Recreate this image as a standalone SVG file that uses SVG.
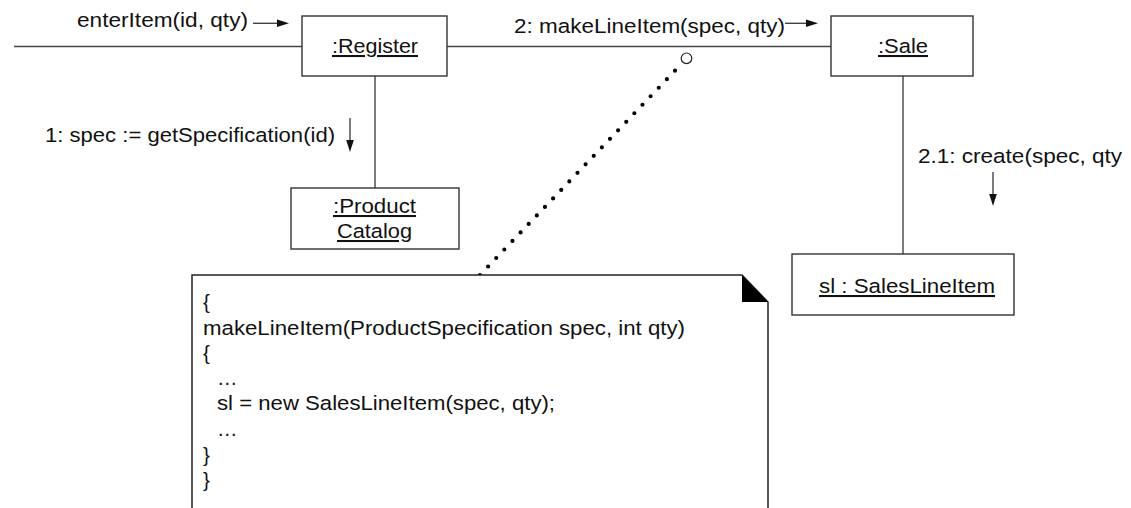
<svg xmlns="http://www.w3.org/2000/svg" width="1131" height="508" viewBox="0 0 1131 508">
<defs>
<style>
text{font-family:"Liberation Sans",Arial,sans-serif;font-size:20.5px;fill:#111}
.box{fill:#fff;stroke:#333;stroke-width:1.4}
.ln{stroke:#444;stroke-width:1.4;fill:none}
.u{text-decoration:underline}
.ah{fill:#111}
</style>
</defs>
<rect width="1131" height="508" fill="#fff"/>
<g id="connectors">
<line class="ln" x1="14" y1="46.5" x2="302" y2="46.5"/>
<line class="ln" x1="447" y1="46.5" x2="831" y2="46.5"/>
<line class="ln" x1="375" y1="76" x2="375" y2="188"/>
<line class="ln" x1="903" y1="76" x2="903" y2="254"/>
<line x1="675" y1="70.7" x2="479.5" y2="275.5" stroke="#000" stroke-width="4.2" stroke-linecap="round" stroke-dasharray="0 11.77"/>
<circle cx="686.5" cy="58.3" r="5.3" fill="#fff" stroke="#222" stroke-width="1.2"/>
<g id="msg-enterItem">
<text x="77" y="27" textLength="171" lengthAdjust="spacingAndGlyphs">enterItem(id, qty)</text>
<line class="ln" x1="253" y1="23.3" x2="280" y2="23.3" stroke="#111"/>
<polygon class="ah" points="289,23.3 277,19.6 277,27"/>
</g>
<g id="msg-makeLineItem">
<text x="514" y="33" textLength="271" lengthAdjust="spacingAndGlyphs">2: makeLineItem(spec, qty)</text>
<line class="ln" x1="785" y1="23.3" x2="808" y2="23.3" stroke="#111"/>
<polygon class="ah" points="818,23.3 806,19.6 806,27"/>
</g>
<g id="msg-getSpecification">
<text x="45" y="142" textLength="290" lengthAdjust="spacingAndGlyphs">1: spec := getSpecification(id)</text>
<line class="ln" x1="350" y1="118" x2="350" y2="143" stroke="#111"/>
<polygon class="ah" points="350,152 346.2,140 353.8,140"/>
</g>
<g id="msg-create">
<text x="918" y="163" textLength="204" lengthAdjust="spacingAndGlyphs">2.1: create(spec, qty</text>
<line class="ln" x1="993" y1="172" x2="993" y2="196" stroke="#111"/>
<polygon class="ah" points="993,206 989.2,194 996.8,194"/>
</g>
</g>
<g id="register">
<rect class="box" x="302" y="16" width="145" height="60"/>
<text class="u" x="332" y="53" textLength="86" lengthAdjust="spacingAndGlyphs">:Register</text>
</g>
<g id="sale">
<rect class="box" x="831" y="16" width="142" height="60"/>
<text class="u" x="878" y="53" textLength="50" lengthAdjust="spacingAndGlyphs">:Sale</text>
</g>
<g id="productCatalog">
<rect class="box" x="291" y="188" width="168" height="61"/>
<text class="u" x="333" y="213" textLength="83" lengthAdjust="spacingAndGlyphs">:Product</text>
<text class="u" x="337" y="238" textLength="75" lengthAdjust="spacingAndGlyphs">Catalog</text>
</g>
<g id="salesLineItem">
<rect class="box" x="792" y="254" width="222" height="61"/>
<text class="u" x="819" y="293" textLength="176" lengthAdjust="spacingAndGlyphs">sl : SalesLineItem</text>
</g>
<g id="note">
<path d="M192,508 V275 H742 L768,302 V508" fill="#fff" stroke="#222" stroke-width="1.5"/>
<polygon points="742,275 768,302 742,302" fill="#000"/>
<text x="203" y="309">{</text>
<text x="203" y="335" textLength="482" lengthAdjust="spacingAndGlyphs">makeLineItem(ProductSpecification spec, int qty)</text>
<text x="203" y="360">{</text>
<text x="217" y="385">…</text>
<text x="217" y="410" textLength="338" lengthAdjust="spacingAndGlyphs">sl = new SalesLineItem(spec, qty);</text>
<text x="217" y="436">…</text>
<text x="203" y="462">}</text>
<text x="203" y="487">}</text>
</g>
</svg>
